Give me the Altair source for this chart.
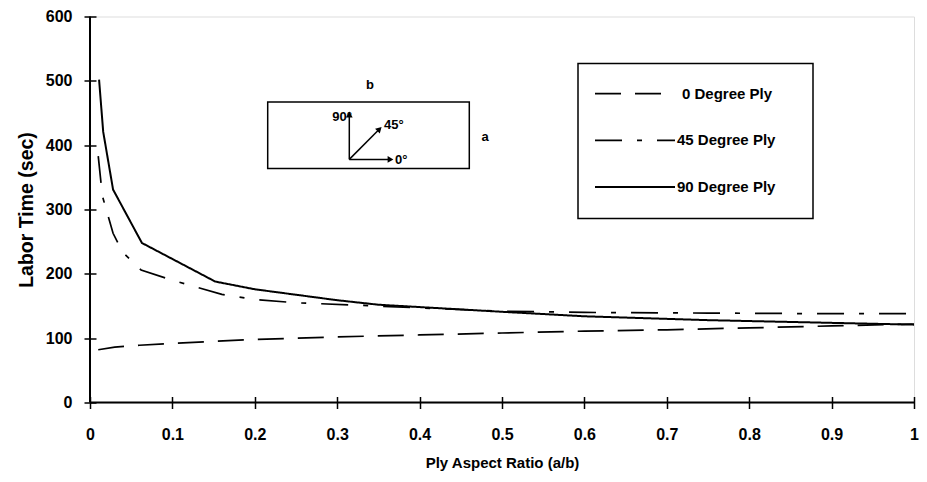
import altair as alt
import pandas as pd

# ---------------- data ----------------
series_names = ["0 Degree Ply", "45 Degree Ply", "90 Degree Ply"]

x_0 = [0.01, 0.03, 0.06, 0.10, 0.15, 0.20, 0.30, 0.40, 0.50, 0.60, 0.70, 0.80, 0.90, 1.00]
y_0 = [82, 86, 89, 92, 95, 98, 102, 105, 108, 111, 113, 116, 119, 122]

x_45 = [0.01, 0.015, 0.028, 0.04, 0.062, 0.10, 0.16, 0.20, 0.25, 0.33, 0.40, 0.50, 0.60, 0.75, 0.90, 1.00]
y_45 = [383, 321, 263, 233, 206, 190, 168, 160, 155, 151, 147, 142, 140, 139, 138, 138]

x_90 = [0.011, 0.016, 0.028, 0.063, 0.152, 0.20, 0.30, 0.35, 0.50, 0.60, 0.75, 1.00]
y_90 = [502, 421, 331, 248, 188, 176, 159, 152, 141, 134, 128, 121]

x_ticks = [0, 0.1, 0.2, 0.3, 0.4, 0.5, 0.6, 0.7, 0.8, 0.9, 1]
y_ticks = [0, 100, 200, 300, 400, 500, 600]

x_title = "Ply Aspect Ratio (a/b)"
y_title = "Labor Time (sec)"

inset_labels = ["b", "a", "90°", "45°", "0°"]

# ---------------- styles / layout ----------------
FONT = "Liberation Sans"
W, H = 824, 386
dashes = [[26, 14], [27, 15, 5, 15], [1, 0]]
line_w = [1.7, 1.7, 2.0]

x_scale = alt.Scale(domain=[0, 1], nice=False, zero=False)
y_scale = alt.Scale(domain=[0, 600], nice=False, zero=False)

x_axis = alt.Axis(
    title=x_title, values=x_ticks, format="~g", grid=False, domain=False,
    offset=-6, tickSize=12, tickWidth=1.5, tickColor="black",
    labelFont=FONT, labelFontWeight="bold", labelFontSize=16, labelColor="black",
    labelPadding=18, labelFlush=False,
    titleFont=FONT, titleFontWeight="bold", titleFontSize=15, titleColor="black",
    titlePadding=13,
)
y_axis = alt.Axis(
    title=y_title, values=y_ticks, format="d", grid=False, domain=False,
    offset=-6, tickSize=12, tickWidth=1.5, tickColor="black",
    labelFont=FONT, labelFontWeight="bold", labelFontSize=16, labelColor="black",
    labelPadding=12, labelFlush=False,
    titleFont=FONT, titleFontWeight="bold", titleFontSize=19.5, titleColor="black",
    titlePadding=9,
)

one = pd.DataFrame({"k": [0]})
layers = []

# axis lines
layers.append(
    alt.Chart(one).mark_rule(color="black", strokeWidth=2).encode(
        x=alt.datum(0, type="quantitative", scale=x_scale, axis=x_axis),
        x2=alt.datum(1),
        y=alt.datum(0, type="quantitative", scale=y_scale, axis=y_axis),
    )
)
layers.append(
    alt.Chart(one).mark_rule(color="black", strokeWidth=2).encode(
        x=alt.datum(0, type="quantitative"),
        y=alt.datum(0, type="quantitative"),
        y2=alt.datum(600),
    )
)

# data lines
for name, xs, ys, dsh, lw in zip(series_names, [x_0, x_45, x_90], [y_0, y_45, y_90], dashes, line_w):
    d = pd.DataFrame({"ratio": xs, "time": ys, "series": name})
    layers.append(
        alt.Chart(d).mark_line(color="black", strokeWidth=lw, strokeDash=dsh).encode(
            x=alt.X("ratio:Q", scale=x_scale, axis=x_axis),
            y=alt.Y("time:Q", scale=y_scale, axis=y_axis),
        )
    )

# legend box
layers.append(
    alt.Chart(one).mark_rect(fill="white", stroke="black", strokeWidth=1.5).encode(
        x=alt.value(488), x2=alt.value(723), y=alt.value(47), y2=alt.value(202)
    )
)
legend_row_y = [77.2, 123.9, 170.5]
legend_text_x = [592, 587, 587]
for name, ly, tx, dsh, lw in zip(series_names, legend_row_y, legend_text_x, dashes, line_w):
    layers.append(
        alt.Chart(one).mark_rule(color="black", strokeWidth=lw, strokeDash=dsh).encode(
            x=alt.value(505), x2=alt.value(585), y=alt.value(ly)
        )
    )
    layers.append(
        alt.Chart(one).mark_text(
            align="left", baseline="middle", font=FONT, fontSize=15,
            fontWeight="bold", color="black", text=name,
        ).encode(x=alt.value(tx), y=alt.value(ly))
    )

# inset diagram
layers.append(
    alt.Chart(one).mark_rect(fill="white", fillOpacity=0, stroke="black", strokeWidth=1.5).encode(
        x=alt.value(177.7), x2=alt.value(379.3), y=alt.value(85.6), y2=alt.value(151.9)
    )
)
ox, oy = 259.3, 142.9
arrow_ends = [(259.3, 96.5), (290.0, 112.0), (300.0, 142.9)]
for ex, ey in arrow_ends:
    layers.append(
        alt.Chart(one).mark_rule(color="black", strokeWidth=1.5).encode(
            x=alt.value(ox), y=alt.value(oy), x2=alt.value(ex), y2=alt.value(ey)
        )
    )
heads = [(259.3, 98.0, 0), (289.5, 112.5, 45), (300.5, 142.9, 90)]
for hx, hy, ang in heads:
    layers.append(
        alt.Chart(one).mark_point(
            shape="triangle-up", filled=True, color="black", size=45, angle=ang, opacity=1
        ).encode(x=alt.value(hx), y=alt.value(hy))
    )
inset_pos = [(280, 68.9, "center"), (395, 120.9, "center"), (262, 100.5, "right"),
             (294, 108.9, "left"), (305, 143.5, "left")]
for lab, (tx, ty, al) in zip(inset_labels, inset_pos):
    layers.append(
        alt.Chart(one).mark_text(
            align=al, baseline="middle", font=FONT, fontSize=13,
            fontWeight="bold", color="black", text=lab,
        ).encode(x=alt.value(tx), y=alt.value(ty))
    )

chart = alt.layer(*layers).properties(
    width=W, height=H,
    autosize=alt.AutoSizeParams(type="none"),
    padding={"left": 82, "top": 8.5, "right": 5, "bottom": 71},
).configure_view(stroke=None).configure(background="white")

chart.save("out.html", embed_options={"renderer": "svg", "actions": False})
